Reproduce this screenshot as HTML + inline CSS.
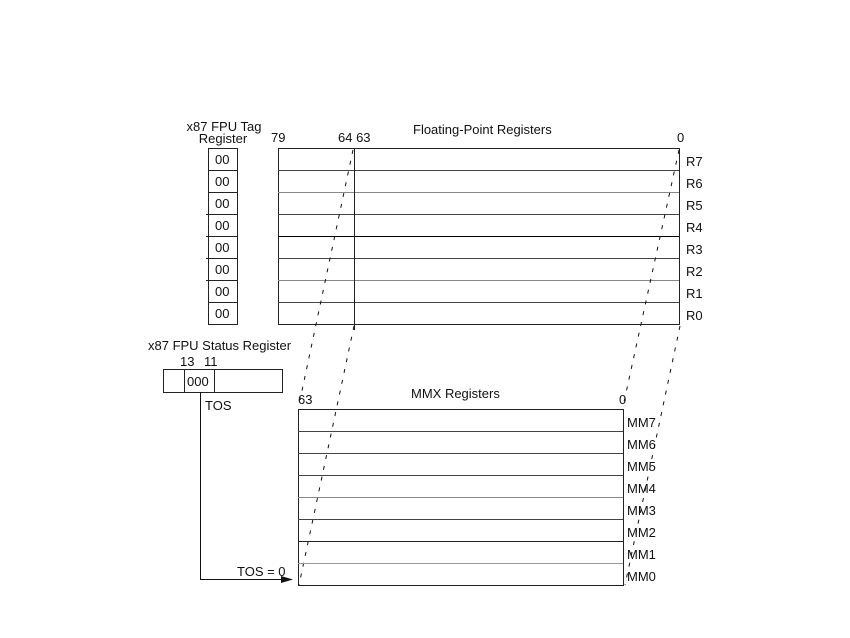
<!DOCTYPE html>
<html>
<head>
<meta charset="utf-8">
<style>
html,body{margin:0;padding:0;background:#fff;}
svg{display:block;}
text{font-family:"Liberation Sans",Arial,sans-serif;font-size:13px;fill:#111;}
</style>
</head>
<body>
<svg width="850" height="638" viewBox="0 0 850 638" xmlns="http://www.w3.org/2000/svg">
<rect width="850" height="638" fill="#fff"/>

<!-- Tag register -->
<text x="224" y="131" text-anchor="middle">x87 FPU Tag</text>
<text x="223" y="143" text-anchor="middle">Register</text>
<g stroke="#222" stroke-width="1" fill="none">
  <rect x="208.5" y="148.5" width="29" height="176"/>
  <line x1="208" y1="170.5" x2="237" y2="170.5"/>
  <line x1="208" y1="192.5" x2="237" y2="192.5"/>
  <line x1="206" y1="214.5" x2="237" y2="214.5"/>
  <line x1="206" y1="236.5" x2="237" y2="236.5"/>
  <line x1="206" y1="258.5" x2="237" y2="258.5"/>
  <line x1="206" y1="280.5" x2="237" y2="280.5"/>
  <line x1="208" y1="302.5" x2="237" y2="302.5"/>
</g>
<g>
  <text x="215" y="164">00</text>
  <text x="215" y="186">00</text>
  <text x="215" y="208">00</text>
  <text x="215" y="230">00</text>
  <text x="215" y="252">00</text>
  <text x="215" y="274">00</text>
  <text x="215" y="296">00</text>
  <text x="215" y="318">00</text>
</g>

<!-- FP registers -->
<text x="271" y="142">79</text>
<text x="338" y="142">64 63</text>
<text x="677" y="142">0</text>
<text x="413" y="134">Floating-Point Registers</text>
<g fill="none">
  <rect x="278.5" y="148.5" width="401" height="176" stroke="#222"/>
  <line x1="278" y1="170.5" x2="679" y2="170.5" stroke="#444"/>
  <line x1="278" y1="192.5" x2="679" y2="192.5" stroke="#888"/>
  <line x1="278" y1="214.5" x2="679" y2="214.5" stroke="#444"/>
  <line x1="278" y1="236.5" x2="679" y2="236.5" stroke="#000"/>
  <line x1="278" y1="258.5" x2="679" y2="258.5" stroke="#444"/>
  <line x1="278" y1="280.5" x2="679" y2="280.5" stroke="#888"/>
  <line x1="278" y1="302.5" x2="679" y2="302.5" stroke="#444"/>
  <line x1="354.5" y1="148" x2="354.5" y2="330" stroke="#222"/>
</g>
<g>
  <text x="686" y="166">R7</text>
  <text x="686" y="188">R6</text>
  <text x="686" y="210">R5</text>
  <text x="686" y="232">R4</text>
  <text x="686" y="254">R3</text>
  <text x="686" y="276">R2</text>
  <text x="686" y="298">R1</text>
  <text x="686" y="320">R0</text>
</g>

<!-- Dashed mapping lines -->
<g stroke="#111" stroke-width="1" stroke-dasharray="4,7" fill="none">
  <line x1="353" y1="150" x2="300" y2="400"/>
  <line x1="354" y1="326" x2="299" y2="585"/>
  <line x1="679" y1="150" x2="624" y2="402"/>
  <line x1="680" y1="326" x2="625" y2="585"/>
</g>

<!-- Status register -->
<text x="148" y="350">x87 FPU Status Register</text>
<text x="180" y="366">13</text>
<text x="204" y="366">11</text>
<g stroke="#222" fill="none">
  <rect x="163.5" y="369.5" width="119" height="23"/>
  <line x1="184.5" y1="369" x2="184.5" y2="392"/>
  <line x1="214.5" y1="369" x2="214.5" y2="392"/>
</g>
<text x="187" y="386">000</text>
<text x="205" y="410">TOS</text>

<!-- TOS arrow -->
<g stroke="#111" fill="none">
  <polyline points="200.5,392 200.5,579.5 282,579.5"/>
</g>
<polygon points="281,576 293,579.5 281,583" fill="#111"/>
<text x="237" y="576">TOS = 0</text>

<!-- MMX registers -->
<text x="298" y="404">63</text>
<text x="411" y="398">MMX Registers</text>
<text x="619" y="404">0</text>
<g fill="none">
  <rect x="298.5" y="409.5" width="325" height="176" stroke="#222"/>
  <line x1="298" y1="431.5" x2="623" y2="431.5" stroke="#444"/>
  <line x1="298" y1="453.5" x2="623" y2="453.5" stroke="#444"/>
  <line x1="298" y1="475.5" x2="623" y2="475.5" stroke="#444"/>
  <line x1="298" y1="497.5" x2="623" y2="497.5" stroke="#888"/>
  <line x1="298" y1="519.5" x2="623" y2="519.5" stroke="#444"/>
  <line x1="298" y1="541.5" x2="623" y2="541.5" stroke="#222"/>
  <line x1="298" y1="563.5" x2="623" y2="563.5" stroke="#999"/>
</g>
<g>
  <text x="627" y="427">MM7</text>
  <text x="627" y="449">MM6</text>
  <text x="627" y="471">MM5</text>
  <text x="627" y="493">MM4</text>
  <text x="627" y="515">MM3</text>
  <text x="627" y="537">MM2</text>
  <text x="627" y="559">MM1</text>
  <text x="627" y="581">MM0</text>
</g>
</svg>
</body>
</html>
